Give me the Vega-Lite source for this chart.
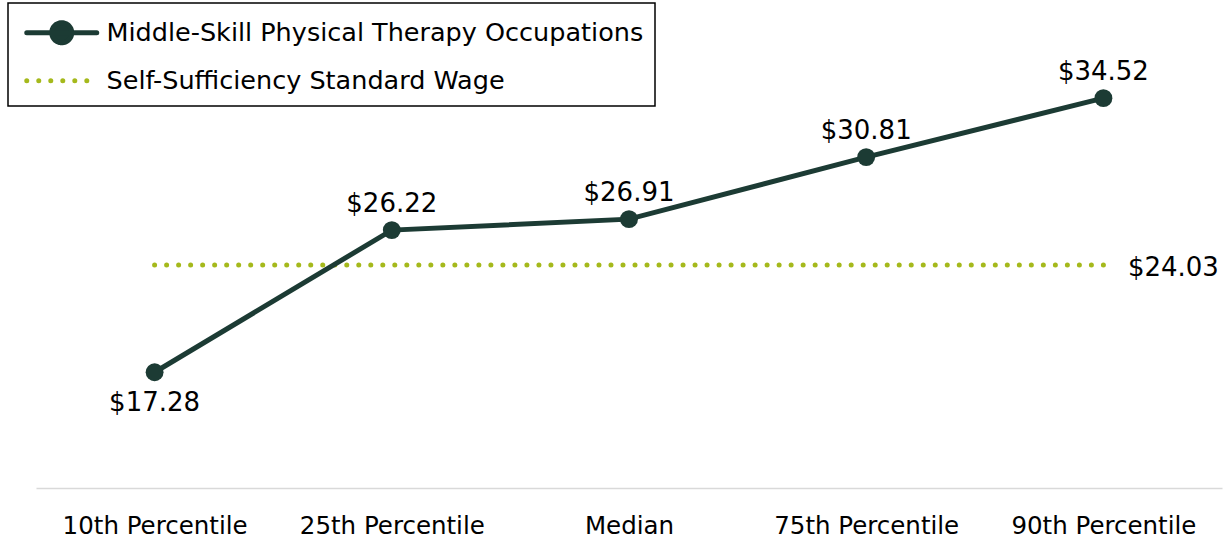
{
  "$schema": "https://vega.github.io/schema/vega-lite/v6.json",
  "width": 1186,
  "height": 477,
  "autosize": {"type": "none"},
  "padding": {"left": 36, "top": 11, "right": 6, "bottom": 54},
  "background": "white",
  "config": {"view": {"stroke": null}, "font": "DejaVu Sans"},
  "data": {
    "values": [
      {"cat": "10th Percentile", "value": 17.28, "series": "Middle-Skill Physical Therapy Occupations"},
      {"cat": "25th Percentile", "value": 26.22, "series": "Middle-Skill Physical Therapy Occupations"},
      {"cat": "Median", "value": 26.91, "series": "Middle-Skill Physical Therapy Occupations"},
      {"cat": "75th Percentile", "value": 30.81, "series": "Middle-Skill Physical Therapy Occupations"},
      {"cat": "90th Percentile", "value": 34.52, "series": "Middle-Skill Physical Therapy Occupations"},
      {"cat": "10th Percentile", "value": 24.03, "series": "Self-Sufficiency Standard Wage"},
      {"cat": "25th Percentile", "value": 24.03, "series": "Self-Sufficiency Standard Wage"},
      {"cat": "Median", "value": 24.03, "series": "Self-Sufficiency Standard Wage"},
      {"cat": "75th Percentile", "value": 24.03, "series": "Self-Sufficiency Standard Wage"},
      {"cat": "90th Percentile", "value": 24.03, "series": "Self-Sufficiency Standard Wage"}
    ]
  },
  "encoding": {
    "x": {
      "field": "cat", "type": "nominal", "sort": null,
      "scale": {"type": "point", "padding": 0.5},
      "axis": {"title": null, "labelAngle": 0, "ticks": false, "grid": false, "domainColor": "#d9d9d9", "domainWidth": 1.5, "labelFont": "DejaVu Sans", "labelFontSize": 24.5, "labelLimit": 0, "labelColor": "#000000", "labelPadding": 26, "labelBaseline": "top"}
    },
    "y": {
      "field": "value", "type": "quantitative",
      "scale": {"domain": [10, 40], "nice": false, "zero": false},
      "axis": null
    }
  },
  "layer": [
    {
      "transform": [{"filter": "datum.series === 'Self-Sufficiency Standard Wage'"}],
      "mark": {"type": "line", "strokeWidth": 5, "strokeDash": [0.01, 12], "strokeCap": "round"},
      "encoding": {
        "color": {
          "field": "series", "type": "nominal",
          "scale": {"domain": ["Middle-Skill Physical Therapy Occupations", "Self-Sufficiency Standard Wage"], "range": ["#1c3b34", "#a5b91c"]},
          "legend": {
            "title": null, "orient": "none", "legendX": -28, "legendY": -8,
            "direction": "vertical",
            "strokeColor": "#000000",
            "padding": 11,
            "labelFont": "DejaVu Sans", "labelFontSize": 25.5, "labelColor": "#000000", "labelLimit": 0,
            "labelOffset": 32,
            "rowPadding": 9,
            "symbolSize": 400,
            "symbolStrokeWidth": 5,
            "symbolOffset": 30,
            "encode": {
              "legend": {"update": {"strokeWidth": {"value": 1.5}}},
              "labels": {"update": {"dy": {"value": 6}}},
              "symbols": {
                "update": {
                  "shape": {"signal": "datum.value === 'Self-Sufficiency Standard Wage' ? 'M-3.5,0.6L3.5,0.6' : 'M-3.5,0.6L3.5,0.6M1,0.6A1,1,0,1,1,-1,0.6A1,1,0,1,1,1,0.6Z'"},
                  "strokeDash": {"signal": "datum.value === 'Self-Sufficiency Standard Wage' ? [0.01, 12] : [1, 0]"},
                  "strokeCap": {"value": "round"},
                  "fill": {"signal": "datum.value === 'Self-Sufficiency Standard Wage' ? 'transparent' : '#1c3b34'"},
                  "stroke": {"signal": "datum.value === 'Self-Sufficiency Standard Wage' ? '#a5b91c' : '#1c3b34'"},
                  "opacity": {"value": 1}
                }
              }
            }
          }
        }
      }
    },
    {
      "transform": [{"filter": "datum.series === 'Middle-Skill Physical Therapy Occupations'"}],
      "mark": {"type": "line", "strokeWidth": 5, "point": {"filled": true, "size": 320, "opacity": 1}},
      "encoding": {"color": {"field": "series", "type": "nominal"}}
    },
    {
      "transform": [{"filter": "datum.series === 'Middle-Skill Physical Therapy Occupations' && datum.cat !== '10th Percentile'"}],
      "mark": {"type": "text", "dy": -26, "font": "DejaVu Sans", "fontSize": 26, "color": "#000000"},
      "encoding": {"text": {"field": "value", "type": "quantitative", "format": "$.2f"}}
    },
    {
      "transform": [{"filter": "datum.series === 'Middle-Skill Physical Therapy Occupations' && datum.cat === '10th Percentile'"}],
      "mark": {"type": "text", "dy": 31, "font": "DejaVu Sans", "fontSize": 26, "color": "#000000"},
      "encoding": {"text": {"field": "value", "type": "quantitative", "format": "$.2f"}}
    },
    {
      "transform": [{"filter": "datum.series === 'Self-Sufficiency Standard Wage' && datum.cat === '90th Percentile'"}],
      "mark": {"type": "text", "dx": 70, "dy": 3, "font": "DejaVu Sans", "fontSize": 26, "color": "#000000"},
      "encoding": {"text": {"field": "value", "type": "quantitative", "format": "$.2f"}}
    }
  ]
}
